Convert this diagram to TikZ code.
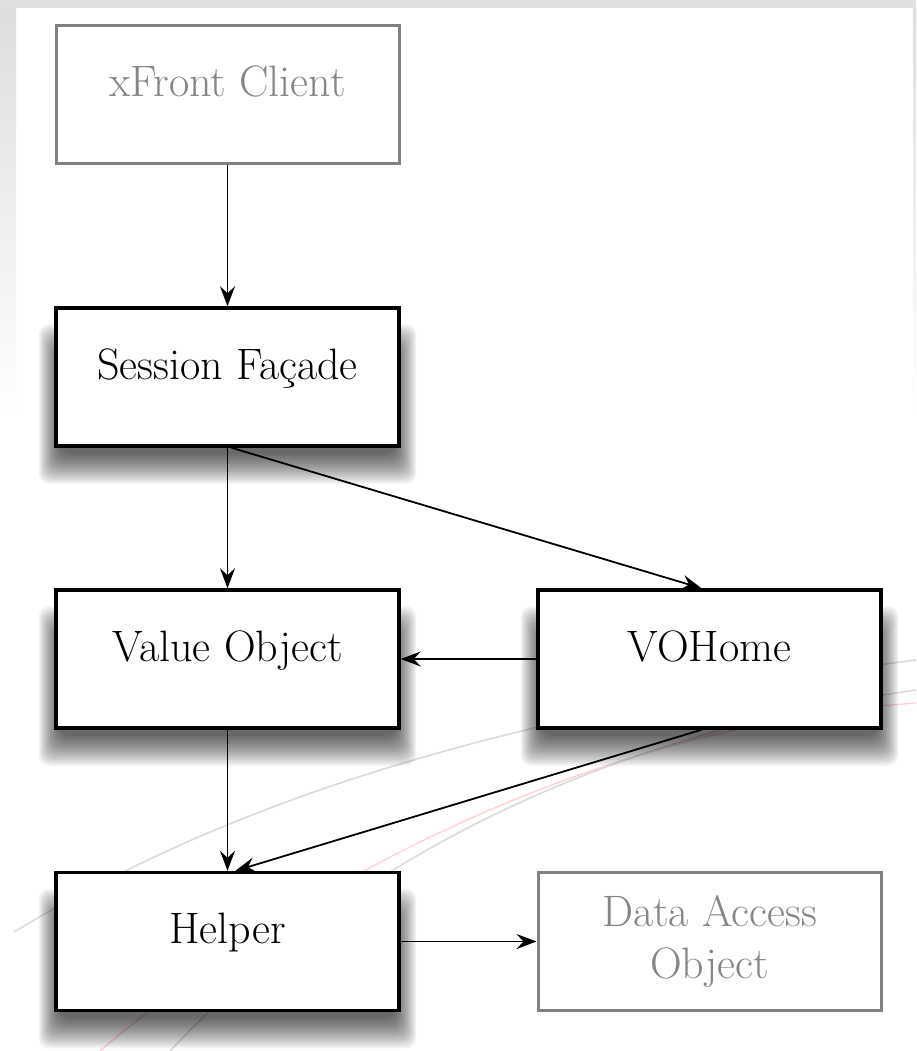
\documentclass[tikz,border=0pt]{standalone}
\usetikzlibrary{arrows.meta,calc}
\pgfdeclarelayer{bg}
\pgfdeclarelayer{shad}
\pgfsetlayers{bg,shad,main}
\begin{document}
\begin{tikzpicture}[x=1pt,y=-1pt,
  boxfont/.style={font=\fontsize{44}{52}\selectfont},
  mainbox/.style={boxfont,draw=black,line width=3.5pt,fill=white,
    minimum width=343pt,minimum height=138pt,inner sep=0pt,
    text height=0.7em,text depth=0.25em},
  ghostbox/.style={boxfont,draw=black!50,line width=3pt,fill=white,text=black!48,
    minimum width=343pt,minimum height=138pt,inner sep=0pt},
  conn/.style={line width=1.8pt,-{Stealth[length=20pt,width=15pt,inset=7pt]}},
  shadowpiece/.style={fill=black,opacity=0.05,rounded corners=10pt},
  bgline/.style={line width=1.6pt,black!14},
  bgred/.style={line width=1.3pt,red!18}]
\useasboundingbox (0,0) rectangle (916,1051);
\begin{pgfonlayer}{bg}
\fill[white] (0,0) rectangle (916,1051);
\fill[black!12] (0,0) rectangle (916,8);
\shade[top color=black!13,bottom color=white] (0,8) rectangle (16,420);
\shade[top color=black!13,bottom color=white] (913,8) rectangle (916,420);
% background sweeps
\draw[bgline] (14,932) .. controls (200,820) and (450,720) .. (916,660);
\draw[bgred] (100,1051) .. controls (300,880) and (600,725) .. (916,703);
\draw[bgline] (170,1051) .. controls (350,860) and (600,735) .. (916,690);
\end{pgfonlayer}
% nodes
\node[ghostbox,text height=0.7em,text depth=0.25em] (xf) at (227.5,94.5) {xFront Client};
\node[mainbox] (sf) at (227.5,377) {Session Façade};
\node[mainbox] (vo) at (227.5,659) {Value Object};
\node[mainbox] (voh) at (709.5,659) {VOHome};
\node[mainbox] (hp) at (227.5,941.5) {Helper};
\node[ghostbox,align=center] (dao) at (709.5,941.5) {Data Access\\Object};
% soft drop shadows
\begin{pgfonlayer}{shad}
\foreach \n in {sf,vo,voh,hp}{
  \foreach \r in {-8,-6,...,22}{
    \fill[shadowpiece] ($(\n.north west)+(-0.7*\r,40-\r)$) rectangle ($(\n.south east)+(0.7*\r,14+\r)$);
  }
}
\end{pgfonlayer}
% connectors
\draw[conn] (xf.south) -- (sf.north);
\draw[conn] (sf.south) -- (vo.north);
\draw[conn] ([xshift=4pt]sf.south) -- ([xshift=-8pt]voh.north);
\draw[conn] (voh.west) -- (vo.east);
\draw[conn] (vo.south) -- (hp.north);
\draw[conn] ([xshift=-8pt]voh.south) -- ([xshift=8pt]hp.north);
\draw[conn] (hp.east) -- (dao.west);
\end{tikzpicture}
\end{document}
